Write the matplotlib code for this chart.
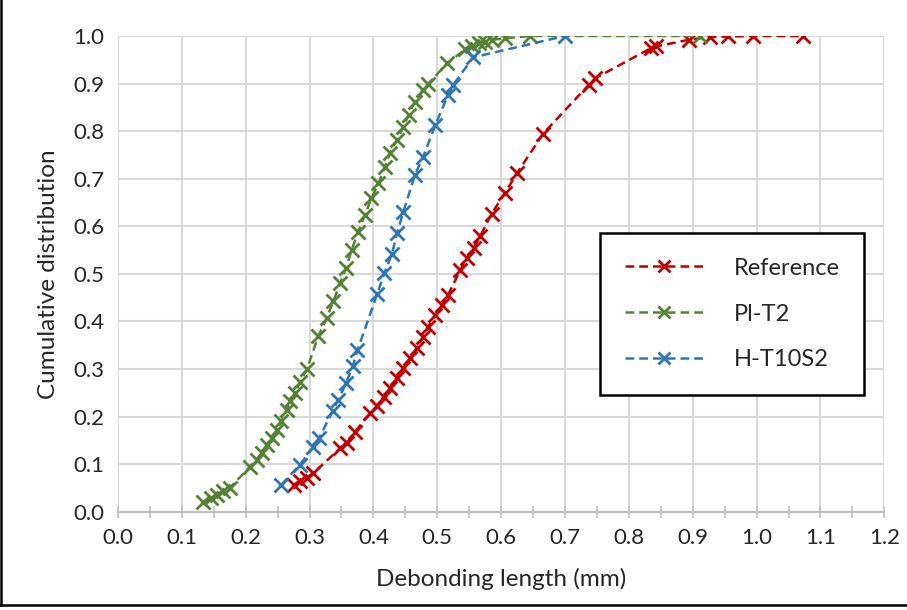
import matplotlib
matplotlib.use("Agg")
import matplotlib.pyplot as plt
from matplotlib.ticker import MultipleLocator, FormatStrFormatter
from matplotlib.lines import Line2D

plt.rcParams['font.family'] = ['Lato', 'DejaVu Sans']

ref_x = [0.275, 0.285, 0.296, 0.306, 0.348, 0.358, 0.371, 0.395, 0.405, 0.416, 0.426,
         0.437, 0.447, 0.457, 0.468, 0.478, 0.486, 0.497, 0.507, 0.517, 0.536, 0.546,
         0.557, 0.567, 0.585, 0.606, 0.625, 0.666, 0.737, 0.747, 0.834, 0.843, 0.894,
         0.927, 0.956, 0.995, 1.072]
ref_y = [0.057, 0.064, 0.072, 0.081, 0.134, 0.144, 0.168, 0.207, 0.222, 0.242, 0.261,
         0.281, 0.302, 0.323, 0.344, 0.368, 0.389, 0.414, 0.435, 0.456, 0.508, 0.533,
         0.554, 0.579, 0.626, 0.670, 0.712, 0.795, 0.897, 0.911, 0.974, 0.978, 0.992,
         0.998, 0.999, 1.0, 1.0]

pl_x = [0.134, 0.145, 0.155, 0.165, 0.175, 0.207, 0.217, 0.225, 0.233, 0.241, 0.249,
        0.256, 0.264, 0.270, 0.277, 0.285, 0.296, 0.314, 0.327, 0.337, 0.348, 0.357,
        0.366, 0.376, 0.387, 0.397, 0.408, 0.418, 0.426, 0.437, 0.447, 0.455, 0.465,
        0.478, 0.486, 0.516, 0.544, 0.554, 0.565, 0.575, 0.585, 0.606, 0.645, 0.912]
pl_y = [0.020, 0.028, 0.036, 0.043, 0.050, 0.095, 0.109, 0.123, 0.141, 0.155, 0.172,
        0.190, 0.214, 0.232, 0.249, 0.272, 0.300, 0.370, 0.407, 0.442, 0.480, 0.512,
        0.550, 0.588, 0.624, 0.659, 0.690, 0.725, 0.754, 0.782, 0.809, 0.834, 0.862,
        0.887, 0.900, 0.943, 0.972, 0.978, 0.985, 0.988, 0.992, 0.995, 1.0, 1.0]

h_x = [0.256, 0.285, 0.306, 0.315, 0.336, 0.345, 0.357, 0.368, 0.375, 0.406, 0.417,
       0.429, 0.437, 0.447, 0.465, 0.478, 0.497, 0.517, 0.525, 0.556, 0.700]
h_y = [0.057, 0.099, 0.137, 0.155, 0.211, 0.235, 0.270, 0.307, 0.339, 0.458, 0.501,
       0.542, 0.585, 0.631, 0.708, 0.746, 0.813, 0.876, 0.897, 0.955, 1.0]

series = [("Reference", ref_x, ref_y, "#C00000"),
          ("Pl-T2", pl_x, pl_y, "#548235"),
          ("H-T10S2", h_x, h_y, "#2E75B6")]

fig = plt.figure(figsize=(9.07, 6.10), dpi=100)
ax = fig.add_axes([0.130, 0.161, 0.845, 0.780])

for name, xs, ys, c in series:
    ax.plot(xs, ys, linestyle=(0, (3.5, 2.0)), color=c, lw=1.8, marker='x',
            markersize=10, markeredgewidth=2.0, label=name, zorder=3)

ax.set_xlim(0, 1.2)
ax.set_ylim(0, 1.0)
ax.xaxis.set_major_locator(MultipleLocator(0.1))
ax.xaxis.set_minor_locator(MultipleLocator(0.05))
ax.yaxis.set_major_locator(MultipleLocator(0.1))
ax.xaxis.set_major_formatter(FormatStrFormatter('%.1f'))
ax.yaxis.set_major_formatter(FormatStrFormatter('%.1f'))
ax.grid(True, which='major', color='#D9D9D9', lw=1.5, zorder=0)
for s in ['top', 'right', 'left']:
    ax.spines[s].set_visible(False)
ax.spines['bottom'].set_color('#BFBFBF')
ax.spines['bottom'].set_linewidth(1.5)
ax.tick_params(axis='x', which='both', direction='inout', length=8, width=1.2,
               color='#BFBFBF', labelsize=16, pad=8, labelcolor='#262626')
ax.tick_params(axis='y', length=0, labelsize=16, pad=10, labelcolor='#262626')
ax.set_xlabel("Debonding length (mm)", fontsize=17.5, color='#262626', labelpad=14)
ax.set_ylabel("Cumulative distribution", fontsize=17.5, color='#262626', labelpad=10)

leg = ax.legend(loc='upper left', bbox_to_anchor=(0.629, 0.586), fontsize=17,
                handlelength=3.3, labelspacing=1.05, borderpad=1.05, handletextpad=1.3,
                borderaxespad=0, fancybox=False, framealpha=1, edgecolor='black',
                markerscale=0.8)
leg.get_frame().set_linewidth(1.8)
for t in leg.get_texts():
    t.set_color('#262626')

fig.add_artist(Line2D([0.0015, 0.0015], [0.008, 1.0], transform=fig.transFigure,
                      color='black', lw=1.8))
fig.add_artist(Line2D([0.0, 1.0], [0.008, 0.008], transform=fig.transFigure,
                      color='black', lw=1.8))

fig.savefig("out.png", dpi=100)
